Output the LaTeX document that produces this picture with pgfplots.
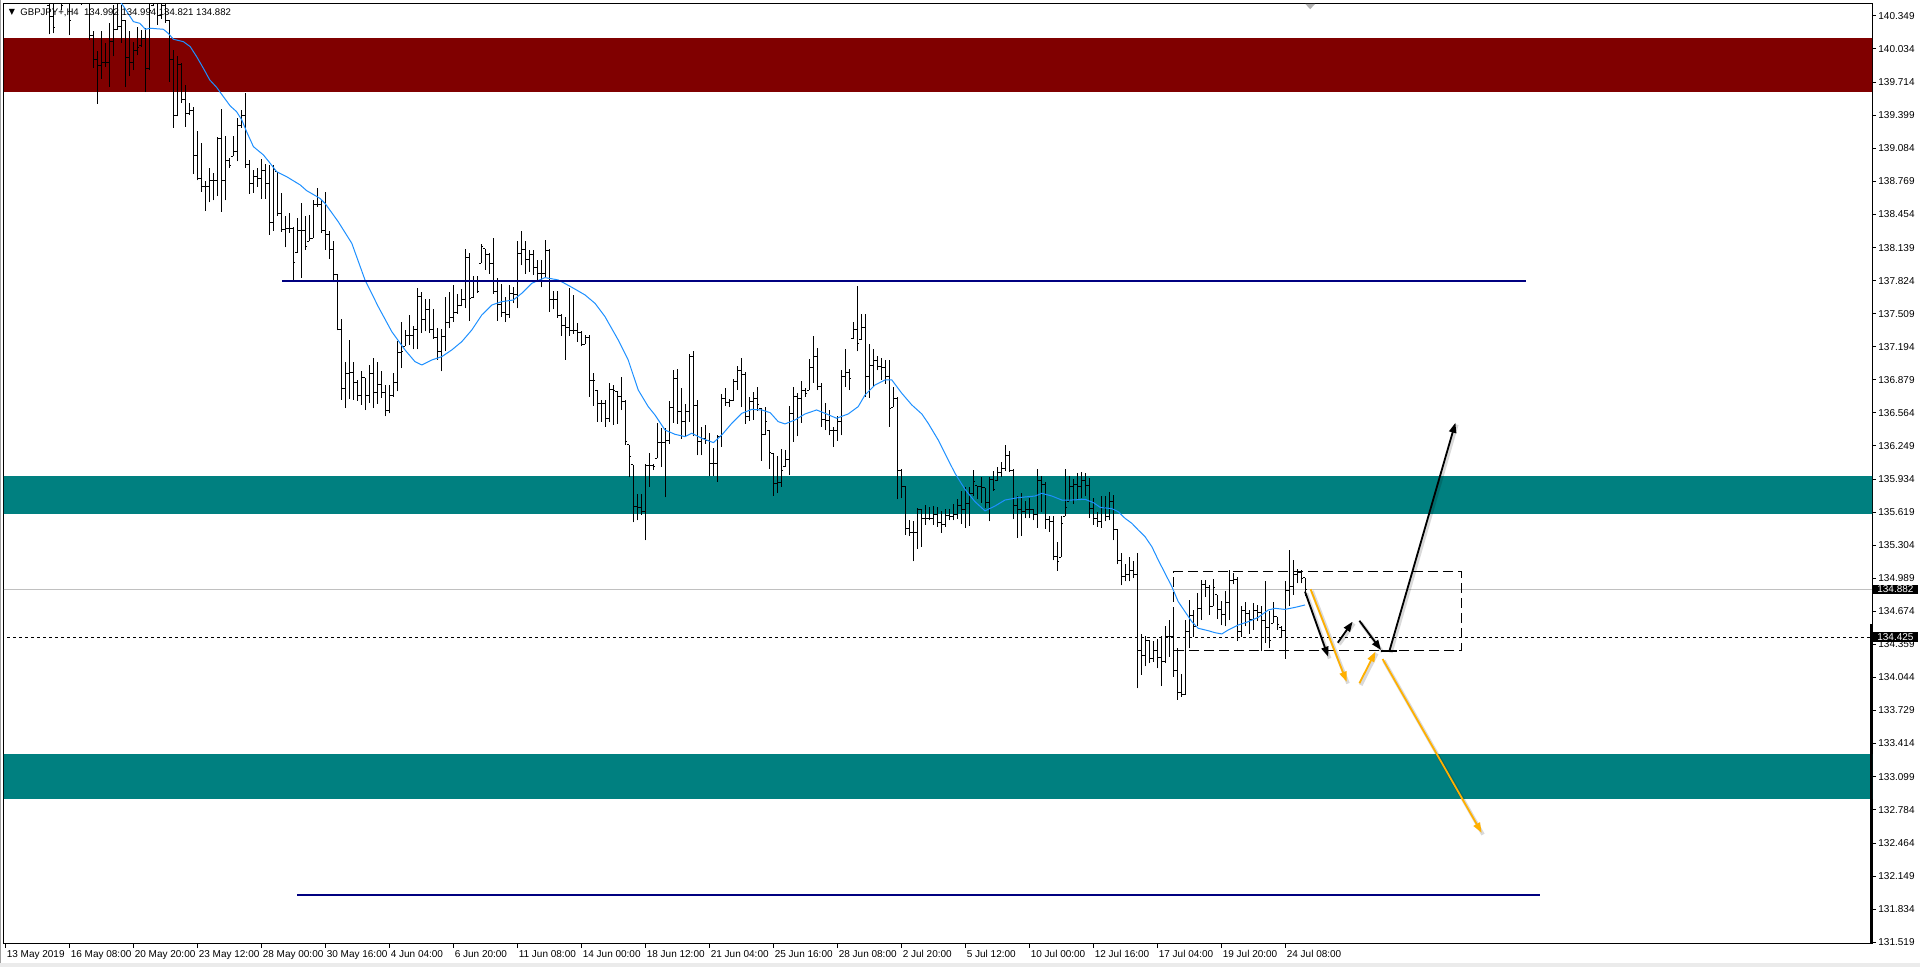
\documentclass[border=0pt]{standalone}
\usepackage{fontspec}
\setmainfont{Liberation Sans}
\newfontfamily\dejavu{DejaVu Sans}
\usepackage{pgfplots}
\pgfplotsset{compat=1.18}
\usepackage{pgfplotstable}
\usetikzlibrary{arrows.meta}

\definecolor{zonered}{RGB}{128,0,0}
\definecolor{zoneteal}{RGB}{0,128,128}
\definecolor{lvlnavy}{RGB}{0,0,128}
\definecolor{maline}{RGB}{30,144,255}
\definecolor{arrorange}{RGB}{255,176,0}
\definecolor{bidgrey}{RGB}{192,192,192}
\definecolor{framegrey}{RGB}{160,160,160}

% open tick to the left, close tick to the right
\pgfdeclareplotmark{otick}{\pgfpathmoveto{\pgfqpoint{-1pt}{0pt}}\pgfpathlineto{\pgfqpoint{0pt}{0pt}}\pgfusepathqstroke}
\pgfdeclareplotmark{ctick}{\pgfpathmoveto{\pgfqpoint{0pt}{0pt}}\pgfpathlineto{\pgfqpoint{1pt}{0pt}}\pgfusepathqstroke}

\pgfplotsset{
  arr/.style={line width=0.9pt, -{Triangle[length=5pt,width=3.6pt]}},
  arrshadow/.style={black, opacity=0.15, line width=1.8pt, xshift=0.7pt, yshift=-0.9pt},
}

% GBPJPY H4, bar index (0 = 13 May 2019 00:00), open high low close
\pgfplotstableread{
i o h l c
11 140.45 140.60 140.17 140.34
12 140.34 140.58 140.18 140.24
13 140.50 140.65 140.50 140.60
14 140.60 140.70 140.40 140.45
15 140.50 140.70 140.50 140.62
16 140.62 140.65 140.16 140.30
17 140.50 140.72 140.50 140.65
18 140.65 140.70 140.50 140.55
19 140.55 140.68 140.45 140.50
20 140.50 140.75 140.50 140.62
21 140.53 140.53 140.12 140.16
22 140.16 140.20 139.85 139.93
23 139.93 140.01 139.51 139.87
24 139.87 140.20 139.75 139.90
25 139.90 140.09 139.86 139.90
26 139.90 140.28 139.67 140.10
27 140.10 140.45 139.96 140.22
28 140.22 140.53 140.21 140.25
29 140.25 140.45 140.09 140.30
30 140.30 140.31 139.67 139.95
31 139.95 140.20 139.77 139.90
32 139.90 140.10 139.83 140.02
33 140.02 140.24 139.97 140.05
34 140.06 140.21 140.05 140.13
35 140.13 140.23 139.62 139.85
36 139.85 140.56 139.83 140.40
37 140.45 140.59 140.44 140.52
38 140.52 140.56 140.26 140.35
39 140.35 140.53 140.32 140.45
40 140.45 140.53 140.28 140.30
41 140.30 140.31 139.72 139.93
42 139.93 140.02 139.28 139.40
43 139.40 139.96 139.39 139.88
44 139.88 139.90 139.52 139.55
45 139.55 139.69 139.29 139.42
46 139.42 139.52 139.40 139.45
47 139.45 139.48 138.84 139.02
48 139.02 139.25 138.78 138.80
49 138.80 139.14 138.67 138.72
50 138.72 138.77 138.49 138.72
51 138.72 138.90 138.57 138.78
52 138.78 138.85 138.59 138.78
53 138.78 139.19 138.63 139.18
54 139.18 139.46 138.48 138.78
55 138.78 139.20 138.59 138.97
56 138.97 138.99 138.90 138.92
57 139.01 139.20 139.01 139.05
58 139.05 139.37 138.96 139.30
59 139.30 139.45 139.28 139.40
60 139.40 139.61 138.90 138.93
61 138.93 138.97 138.65 138.75
62 138.75 138.88 138.66 138.82
63 138.82 138.90 138.72 138.80
64 138.80 138.98 138.60 138.87
65 138.87 138.94 138.60 138.75
66 138.75 138.93 138.26 138.38
67 138.38 138.93 138.30 138.88
68 138.86 138.86 138.44 138.46
69 138.46 138.66 138.29 138.31
70 138.31 138.44 138.14 138.32
71 138.32 138.47 138.28 138.32
72 138.32 138.34 137.83 138.00
73 138.09 138.42 138.09 138.30
74 138.30 138.56 137.85 138.30
75 138.30 138.44 138.12 138.15
76 138.20 138.45 138.20 138.23
77 138.23 138.59 138.23 138.55
78 138.55 138.71 138.53 138.55
79 138.55 138.59 138.28 138.30
80 138.30 138.67 138.12 138.26
81 138.26 138.30 138.03 138.12
82 138.12 138.20 137.81 137.88
83 137.88 137.89 137.35 137.36
84 137.36 137.46 136.69 136.80
85 136.80 137.05 136.61 136.94
86 136.94 137.26 136.70 136.95
87 136.95 137.05 136.69 136.85
88 136.85 136.88 136.68 136.73
89 136.73 136.96 136.64 136.90
90 136.90 136.90 136.59 136.73
91 136.73 137.02 136.66 136.94
92 136.94 137.09 136.61 136.76
93 136.76 137.05 136.65 136.83
94 136.83 136.96 136.71 136.76
95 136.76 136.83 136.53 136.59
96 136.59 136.83 136.56 136.73
97 136.73 136.94 136.72 136.85
98 136.85 137.25 136.77 137.14
99 137.14 137.43 136.99 137.15
100 137.20 137.35 137.20 137.30
101 137.30 137.50 137.21 137.30
102 137.30 137.39 137.17 137.36
103 137.36 137.75 137.17 137.67
104 137.67 137.72 137.33 137.45
105 137.45 137.65 137.34 137.55
106 137.55 137.65 137.33 137.36
107 137.36 137.55 137.27 137.28
108 137.28 137.37 137.07 137.15
109 137.15 137.36 136.96 137.29
110 137.29 137.67 137.15 137.43
111 137.43 137.72 137.37 137.47
112 137.47 137.78 137.43 137.52
113 137.52 137.70 137.51 137.59
114 137.59 137.74 137.58 137.64
115 137.64 138.13 137.56 138.04
116 138.04 138.09 137.44 137.65
117 137.66 137.87 137.66 137.82
118 137.82 137.87 137.71 137.72
119 137.99 138.17 137.99 138.15
120 138.13 138.13 137.93 138.07
121 138.07 138.09 137.89 137.99
122 137.99 138.23 137.70 137.72
123 137.72 137.85 137.44 137.60
124 137.60 137.79 137.48 137.52
125 137.52 137.67 137.43 137.50
126 137.50 137.78 137.47 137.70
127 137.70 137.76 137.61 137.69
128 137.69 138.20 137.56 138.08
129 138.08 138.30 137.97 138.12
130 138.12 138.20 137.89 138.03
131 138.03 138.12 137.91 138.07
132 138.07 138.12 137.88 137.95
133 137.95 138.02 137.82 137.89
134 137.89 138.02 137.76 137.89
135 137.89 138.21 137.86 138.11
136 138.11 138.13 137.53 137.64
137 137.64 137.73 137.55 137.64
138 137.64 137.73 137.47 137.49
139 137.49 137.51 137.30 137.40
140 137.40 137.48 137.07 137.38
141 137.38 137.75 137.30 137.35
142 137.35 137.69 137.32 137.35
143 137.35 137.42 137.24 137.33
144 137.33 137.34 137.20 137.22
145 137.22 137.31 137.22 137.28
146 137.28 137.31 136.72 136.87
147 136.87 136.94 136.63 136.87
148 136.78 136.78 136.48 136.65
149 136.65 136.69 136.48 136.65
150 136.65 136.69 136.43 136.51
151 136.51 136.85 136.48 136.79
152 136.79 136.83 136.45 136.78
153 136.77 136.77 136.46 136.72
154 136.72 136.91 136.59 136.67
155 136.67 136.69 136.26 136.29
156 136.26 136.26 135.95 136.15
157 136.07 136.07 135.52 135.67
158 135.67 135.79 135.54 135.66
159 135.66 135.79 135.59 135.62
160 135.62 136.08 135.35 136.06
161 136.06 136.18 135.86 136.06
162 136.06 136.08 136.02 136.05
163 136.13 136.47 136.13 136.28
164 136.28 136.42 136.05 136.28
165 136.28 136.42 135.76 136.30
166 136.30 136.68 136.27 136.62
167 136.62 136.97 136.47 136.89
168 136.89 136.98 136.46 136.58
169 136.58 136.80 136.32 136.48
170 136.48 136.65 136.34 136.58
171 136.58 137.13 136.48 137.10
172 137.10 137.15 136.34 136.63
173 136.63 136.69 136.16 136.29
174 136.29 136.43 136.16 136.32
175 136.32 136.45 136.27 136.30
176 136.30 136.37 135.96 136.08
177 136.08 136.23 135.96 136.08
178 136.08 136.35 135.91 136.34
179 136.34 136.74 136.24 136.70
180 136.70 136.80 136.63 136.66
181 136.66 136.70 136.62 136.68
182 136.68 136.89 136.68 136.86
183 136.86 137.01 136.78 136.97
184 136.97 137.09 136.62 136.93
185 136.93 136.95 136.46 136.53
186 136.53 136.72 136.49 136.67
187 136.67 136.76 136.50 136.70
188 136.70 136.81 136.58 136.64
189 136.61 136.61 136.11 136.36
190 136.36 136.62 136.35 136.48
191 136.40 136.40 136.03 136.19
192 136.18 136.18 135.77 135.89
193 135.89 136.15 135.80 135.90
194 135.90 136.22 135.86 136.02
195 136.05 136.21 136.05 136.12
196 136.12 136.63 135.97 136.56
197 136.56 136.81 136.29 136.72
198 136.72 136.75 136.34 136.70
199 136.70 136.87 136.47 136.78
200 136.78 136.80 136.72 136.75
201 136.78 137.08 136.78 137.00
202 137.00 137.30 136.85 137.10
203 137.10 137.18 136.78 136.82
204 136.82 136.85 136.43 136.50
205 136.50 136.66 136.40 136.49
206 136.49 136.59 136.35 136.40
207 136.40 136.43 136.24 136.40
208 136.40 136.53 136.30 136.48
209 136.48 136.97 136.35 136.91
210 136.91 137.17 136.81 136.95
211 136.95 136.98 136.78 136.89
212 137.27 137.43 137.27 137.36
213 137.36 137.77 137.15 137.23
214 137.26 137.51 137.26 137.38
215 137.38 137.51 136.72 136.91
216 136.91 137.22 136.71 137.02
217 137.02 137.17 136.81 137.06
218 137.06 137.11 136.97 137.01
219 137.01 137.09 136.88 137.00
220 137.00 137.07 136.84 136.91
221 136.91 137.07 136.43 136.61
222 136.62 136.81 136.62 136.70
223 136.70 136.72 135.74 136.02
224 136.02 136.03 135.75 135.86
225 135.86 135.87 135.40 135.46
226 135.46 135.54 135.39 135.42
227 135.42 135.53 135.15 135.42
228 135.42 135.66 135.27 135.64
229 135.64 135.65 135.29 135.56
230 135.56 135.69 135.50 135.56
231 135.56 135.67 135.54 135.56
232 135.56 135.68 135.50 135.60
233 135.60 135.67 135.48 135.52
234 135.52 135.63 135.42 135.50
235 135.50 135.65 135.48 135.59
236 135.59 135.65 135.54 135.58
237 135.58 135.70 135.54 135.60
238 135.60 135.74 135.55 135.68
239 135.68 135.82 135.51 135.64
240 135.64 135.86 135.47 135.70
241 135.70 135.86 135.49 135.80
242 135.80 136.02 135.77 135.91
243 135.87 135.87 135.74 135.86
244 135.86 135.95 135.71 135.85
245 135.85 135.85 135.66 135.71
246 135.71 135.95 135.53 135.93
247 135.93 136.01 135.82 135.83
248 135.92 136.05 135.92 136.00
249 136.00 136.10 135.95 136.03
250 136.03 136.26 136.01 136.16
251 136.16 136.20 136.00 136.02
252 136.02 136.03 135.55 135.68
253 135.68 135.77 135.37 135.64
254 135.64 135.80 135.39 135.62
255 135.62 135.72 135.56 135.64
256 135.64 135.75 135.56 135.64
257 135.64 135.65 135.54 135.60
258 135.60 136.03 135.47 135.92
259 135.92 135.96 135.62 135.88
260 135.88 135.91 135.46 135.55
261 135.55 135.58 135.43 135.53
262 135.53 135.58 135.16 135.20
263 135.20 135.33 135.06 135.15
264 135.19 135.58 135.19 135.51
265 135.58 136.03 135.58 135.66
266 135.72 135.96 135.72 135.86
267 135.86 135.93 135.70 135.88
268 135.88 135.99 135.73 135.86
269 135.86 136.00 135.75 135.92
270 135.92 135.99 135.77 135.87
271 135.87 135.94 135.56 135.65
272 135.65 135.75 135.50 135.56
273 135.56 135.62 135.48 135.53
274 135.53 135.77 135.47 135.66
275 135.66 135.77 135.53 135.58
276 135.58 135.81 135.54 135.72
277 135.72 135.78 135.35 135.45
278 135.45 135.46 135.12 135.16
279 135.16 135.23 134.92 135.01
280 135.01 135.12 134.96 135.02
281 135.02 135.19 134.96 135.06
282 135.06 135.15 134.99 135.02
283 135.02 135.23 133.94 134.30
284 134.30 134.46 134.07 134.25
285 134.25 134.44 134.15 134.40
286 134.40 134.40 134.18 134.22
287 134.22 134.39 134.19 134.30
288 134.30 134.41 134.13 134.23
289 134.23 134.44 133.96 134.20
290 134.20 134.53 134.18 134.43
291 134.43 134.59 134.24 134.43
292 134.43 134.67 134.05 134.11
293 134.11 134.32 133.83 133.90
294 133.90 134.08 133.86 133.88
295 133.88 134.59 133.88 134.48
296 134.48 134.78 134.32 134.63
297 134.63 134.69 134.43 134.53
298 134.53 134.85 134.53 134.70
299 134.70 134.97 134.59 134.93
300 134.93 134.97 134.81 134.90
301 134.90 134.92 134.64 134.72
302 134.72 134.98 134.72 134.90
303 134.83 134.83 134.60 134.69
304 134.69 134.77 134.54 134.64
305 134.64 134.87 134.53 134.76
306 134.76 135.07 134.59 134.97
307 134.97 135.04 134.93 134.98
308 134.98 135.00 134.39 134.48
309 134.48 134.72 134.43 134.68
310 134.68 134.76 134.53 134.65
311 134.65 134.69 134.46 134.60
312 134.60 134.75 134.50 134.68
313 134.68 134.73 134.58 134.66
314 134.66 134.72 134.30 134.59
315 134.59 134.96 134.37 134.52
316 134.52 134.68 134.32 134.40
317 134.56 134.76 134.56 134.62
318 134.62 134.62 134.50 134.55
319 134.52 134.53 134.42 134.49
320 134.49 134.96 134.22 134.87
321 134.87 135.26 134.72 134.91
322 134.91 135.16 134.83 135.02
323 135.02 135.08 134.94 135.04
324 135.04 135.07 134.94 134.99
325 134.992 134.994 134.821 134.882
}\bars

\begin{document}
\begin{tikzpicture}
\fill[white, use as bounding box] (-2pt,-11.5pt) rectangle (958pt,472pt);
\draw[framegrey, line width=0.5pt] (-2pt,-11.5pt) -- (-2pt,472pt) -- (958pt,472pt);
\fill[black!8] (-2pt,-11.5pt) rectangle (958pt,-9.5pt);
\begin{axis}[
  at={(0pt,0pt)}, anchor=south west,
  scale only axis, width=934pt, height=470pt,
  xmin=-0.35, xmax=466.65, ymin=131.504, ymax=140.46,
  clip mode=individual, clip marker paths=true,
  axis line style={black, line width=0.5pt},
  tick align=outside, major tick length=2pt,
  tick style={black, line width=0.5pt},
  xtick pos=bottom, ytick pos=right, yticklabel pos=right,
  xtick={0,16,...,320},
  xticklabels={13 May 2019,16 May 08:00,20 May 20:00,23 May 12:00,28 May 00:00,30 May 16:00,4 Jun 04:00,6 Jun 20:00,11 Jun 08:00,14 Jun 00:00,18 Jun 12:00,21 Jun 04:00,25 Jun 16:00,28 Jun 08:00,2 Jul 20:00,5 Jul 12:00,10 Jul 00:00,12 Jul 16:00,17 Jul 04:00,19 Jul 20:00,24 Jul 08:00},
  ytick={140.349,140.034,139.714,139.399,139.084,138.769,138.454,138.139,137.824,137.509,137.194,136.879,136.564,136.249,135.934,135.619,135.304,134.989,134.674,134.359,134.044,133.729,133.414,133.099,132.784,132.464,132.149,131.834,131.519},
  yticklabels={140.349,140.034,139.714,139.399,139.084,138.769,138.454,138.139,137.824,137.509,137.194,136.879,136.564,136.249,135.934,135.619,135.304,134.989,134.674,134.359,134.044,133.729,133.414,133.099,132.784,132.464,132.149,131.834,131.519},
  tick label style={font=\fontsize{5}{6}\selectfont, black},
  xticklabel style={anchor=north west, inner sep=0pt, xshift=0.5pt, yshift=-1pt},
  yticklabel style={anchor=west, inner sep=0pt, xshift=1pt},
]
% zones
\addplot[draw=none, fill=zonered] coordinates {(-1,139.626) (468,139.626) (468,140.139) (-1,140.139)} -- cycle;
\addplot[draw=none, fill=zoneteal] coordinates {(-1,135.604) (468,135.604) (468,135.963) (-1,135.963)} -- cycle;
\addplot[draw=none, fill=zoneteal] coordinates {(-1,132.882) (468,132.882) (468,133.313) (-1,133.313)} -- cycle;
% bid line and dotted level
\addplot[bidgrey, line width=0.5pt] coordinates {(-1,134.882) (468,134.882)};
\addplot[black, line width=0.5pt, dash pattern=on 1.5pt off 1.5pt] coordinates {(-1,134.425) (468,134.425)};
% bars
\addplot[draw=none, mark=none, error bars/.cd, y dir=plus, y explicit, error mark=none,
  error bar style={black, line width=0.6pt, solid}]
  table[x=i, y=l, y error expr=\thisrow{h}-\thisrow{l}] {\bars};
\addplot[black, only marks, mark=otick, mark options={line width=0.5pt}] table[x=i, y=o] {\bars};
\addplot[black, only marks, mark=ctick, mark options={line width=0.5pt}] table[x=i, y=c] {\bars};
% moving average
\addplot[maline, line width=0.5pt] coordinates {
(27,140.56) (29.3,140.451) (32.0,140.292) (33.6,140.276) (35.0,140.219) (36.2,140.229)
(39.5,140.219) (40.7,140.181) (42.0,140.124) (44.5,140.101) (46.2,140.054) (47.8,139.959)
(49.5,139.847) (51.1,139.736) (52.8,139.666) (54.5,139.577) (56.2,139.489) (57.8,139.434)
(59.1,139.355) (60.3,139.244) (62.0,139.101) (64.5,139.022) (66.2,138.942) (67.8,138.863)
(70.3,138.815) (73.7,138.736) (75.3,138.682) (78.6,138.609) (79.9,138.561) (83.2,138.386)
(86.6,138.180) (89.9,137.831) (93.2,137.577) (96.6,137.338) (99.9,137.164) (102.4,137.052)
(104.1,137.021) (106.6,137.068) (109.1,137.100) (111.6,137.164) (114.1,137.243) (116.6,137.354)
(119.1,137.497) (121.6,137.592) (124.1,137.624) (127.0,137.640) (129.1,137.704) (131.6,137.799)
(134.9,137.853) (138.2,137.831) (141.6,137.761) (144.9,137.688) (147.4,137.608) (149.9,137.481)
(153.2,137.259) (155.7,137.068) (158.2,136.783) (160.7,136.624) (162.4,136.544) (164.9,136.401)
(167.4,136.360) (169.9,136.338) (171.6,136.370) (174.1,136.322) (177.0,136.281) (179.1,136.354)
(181.6,136.465) (184.1,136.560) (186.6,136.598) (189.1,136.592) (191.2,136.566) (193.2,136.481)
(194.9,136.459) (197.4,136.497) (199.9,136.554) (202.8,136.592) (204.9,136.560) (207.8,136.513)
(210.7,136.554) (213.2,136.624) (214.9,136.735) (217.4,136.830) (219.9,136.878) (221.6,136.878)
(224.1,136.751) (226.6,136.640) (229.1,136.554) (230.7,136.465) (233.2,136.306) (235.3,136.147)
(237.4,135.988) (239.9,135.836) (242.4,135.718) (244.9,135.631) (247.4,135.677) (249.9,135.734)
(253.2,135.757) (257.4,135.772) (259.1,135.798) (261.6,135.772) (264.1,135.734) (266.6,135.734)
(269.9,135.741) (272.0,135.709) (273.7,135.664) (276.6,135.652) (278.2,135.623) (279.9,135.560)
(281.6,135.512) (283.2,135.449) (284.9,135.385) (286.6,135.290) (288.2,135.163) (289.9,135.036)
(291.6,134.909) (293.2,134.766) (294.9,134.670) (296.6,134.575) (298.2,134.512) (300.7,134.489)
(302.4,134.470) (304.1,134.458) (305.7,134.496) (308.2,134.543) (310.7,134.575) (313.2,134.616)
(315.7,134.686) (317.4,134.702) (319.9,134.692) (322.4,134.711) (324.9,134.734)};
% horizontal levels
\addplot[lvlnavy, line width=1pt] coordinates {(69.2,137.823) (380.1,137.823)};
\addplot[lvlnavy, line width=1pt] coordinates {(73.0,131.970) (383.7,131.970)};
% range box
\addplot[black, line width=0.5pt, dash pattern=on 5pt off 2.5pt] coordinates {(292.0,135.053) (364.1,135.053) (364.1,134.298) (292.0,134.298)} -- cycle;
% scenario arrows: soft shadows first
\addplot[arrshadow] coordinates {(326.3,134.884) (335.3,134.003)};
\addplot[arrshadow] coordinates {(338.5,133.988) (342.5,134.289)};
\addplot[arrshadow] coordinates {(344.3,134.219) (369.05,132.564)};
\addplot[arrshadow] coordinates {(324.9,134.861) (330.7,134.241)};
\addplot[arrshadow] coordinates {(333.1,134.375) (336.8,134.575)};
\addplot[arrshadow] coordinates {(338.5,134.584) (343.9,134.305)};
\addplot[arrshadow] coordinates {(346.0,134.296) (362.5,136.47)};
\addplot[arrorange, arr] coordinates {(326.3,134.884) (335.3,134.003)};
\addplot[arrorange, arr] coordinates {(338.5,133.988) (342.5,134.289)};
\addplot[arrorange, arr] coordinates {(344.3,134.219) (369.05,132.564)};
\addplot[black, arr] coordinates {(324.9,134.861) (330.7,134.241)};
\addplot[black, arr] coordinates {(333.1,134.375) (336.8,134.575)};
\addplot[black, arr] coordinates {(338.5,134.584) (343.9,134.305)};
\addplot[black, line width=0.9pt] coordinates {(343.9,134.296) (348.0,134.296)};
\addplot[black, arr] coordinates {(346.0,134.296) (362.5,136.47)};
% right edge marker and shift marker
\addplot[black, line width=1pt] coordinates {(466.4,134.55) (466.4,131.4)};
\addplot[draw=none, fill=black!30] coordinates {(325.0,140.46) (327.4,140.46) (326.2,140.41)} -- cycle;
% price labels and title
\node[anchor=west, fill=black, text=white, inner sep=0.7pt, minimum width=23pt, font=\fontsize{5}{6}\selectfont] at (axis cs:466.65,134.882) {134.882};
\node[anchor=west, fill=black, text=white, inner sep=0.7pt, minimum width=23pt, font=\fontsize{5}{6}\selectfont] at (axis cs:466.65,134.425) {134.425};
\node[anchor=center, inner sep=0pt, font=\dejavu\fontsize{4}{5}\selectfont] at (axis cs:1.65,140.375) {▼};
\node[anchor=west, inner sep=0pt, font=\fontsize{4.8}{6}\selectfont] at (axis cs:3.65,140.375) {GBPJPY+,H4\ \ 134.992 134.994 134.821 134.882};
\end{axis}
\end{tikzpicture}
\end{document}
